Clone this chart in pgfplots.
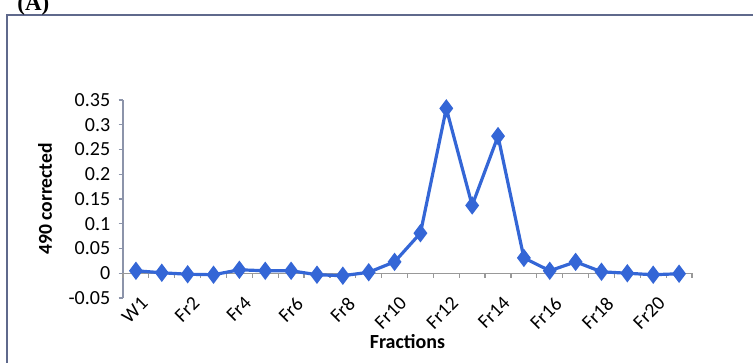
\documentclass[border=0pt]{standalone}
\usepackage{pgfplots}
\pgfplotsset{compat=1.18}
\usepackage{fontspec}
\setmainfont{Carlito}
\newfontfamily\serifA{Liberation Serif}
\definecolor{linec}{RGB}{52,102,214}
\definecolor{axc}{RGB}{140,148,170}
\definecolor{framec}{RGB}{95,105,140}
\begin{document}
\begin{tikzpicture}
\useasboundingbox (0,0) rectangle (376.5pt,181.5pt);
\clip (0,0) rectangle (376.5pt,181.5pt);
\draw[framec, line width=1pt] (3.5pt,-20pt) -- (3.5pt,174pt) -- (400pt,174pt);
\node[anchor=base west, font=\serifA\bfseries\fontsize{11.5}{14}\selectfont, inner sep=0pt] at (8.5pt,176pt) {(A)};
\begin{axis}[
  at={(61.5pt,32.5pt)}, anchor=south west,
  scale only axis, width=284.5pt, height=99pt,
  xmin=-0.5, xmax=21.5, ymin=-0.05, ymax=0.35,
  axis lines=left,
  axis line style={axc, line width=0.6pt},
  x axis line style={draw=none, -},
  y axis line style={-},
  tick align=outside,
  major tick length=2.2pt,
  xtick={0,2,...,20},
  xticklabels={W1,Fr2,Fr4,Fr6,Fr8,Fr10,Fr12,Fr14,Fr16,Fr18,Fr20},
  x tick style={draw=none},
  xticklabel style={yshift=5pt, xshift=2pt, rotate=45, anchor=north east, font=\fontsize{9.8}{10}\selectfont, inner sep=1pt},
  ytick={-0.05,0,0.05,0.1,0.15,0.2,0.25,0.3,0.35},
  yticklabels={-0.05,0,0.05,0.1,0.15,0.2,0.25,0.3,0.35},
  y tick style={axc, line width=0.6pt},
  yticklabel style={font=\fontsize{10}{10}\selectfont, inner sep=1pt, xshift=-3pt},
  ylabel={\bfseries 490 corrected},
  ylabel style={font=\fontsize{9.8}{10}\selectfont, at={(axis description cs:-0.137,0.5)}, anchor=center},
  xlabel={\bfseries Fractions},
  xlabel style={font=\fontsize{10}{10}\selectfont, at={(axis description cs:0.5,0)}, anchor=center, yshift=-22pt},
  clip=false,
]
\draw[gray!80, line width=0.6pt] (axis cs:-0.5,0) -- (axis cs:21.5,0);
\pgfplotsinvokeforeach{-0.5,0.5,...,21.5}{
  \draw[gray!80, line width=0.6pt] (axis cs:#1,0) -- ([yshift=-2.2pt]axis cs:#1,0);
}
\addplot[linec, line width=1.6pt, mark=diamond*, mark size=3.3pt, mark options={solid, fill=linec}]
coordinates {
(0,0.005) (1,0.001) (2,-0.002) (3,-0.003) (4,0.007) (5,0.005) (6,0.005)
(7,-0.003) (8,-0.005) (9,0.002) (10,0.023) (11,0.081) (12,0.333) (13,0.137)
(14,0.277) (15,0.031) (16,0.005) (17,0.023) (18,0.003) (19,0.0) (20,-0.003) (21,-0.001)
};
\end{axis}
\end{tikzpicture}
\end{document}
